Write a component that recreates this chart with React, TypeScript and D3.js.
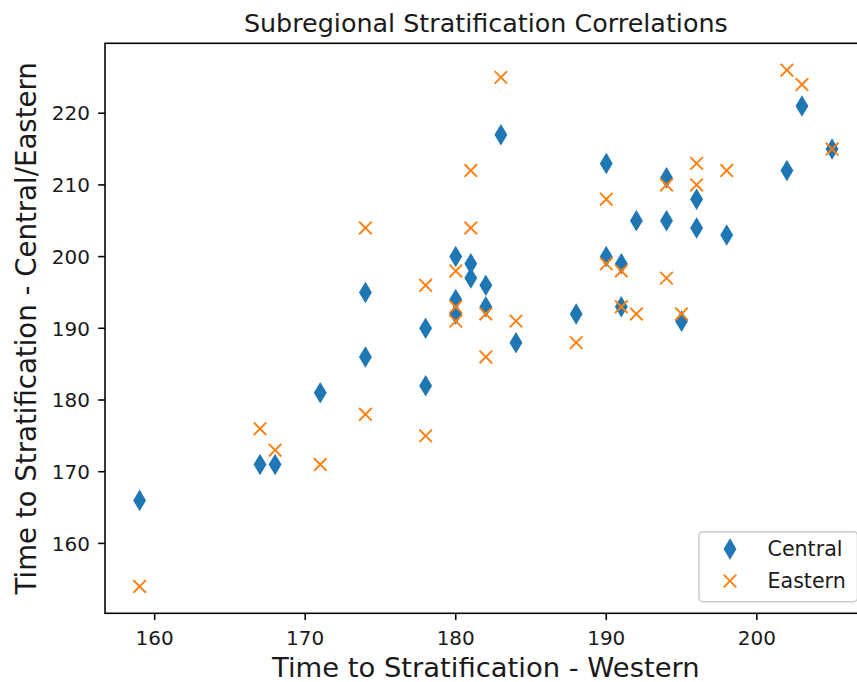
import React from "react";
import * as d3 from "d3";

const western = [159,167,168,171,174,174,178,178,180,180,180,181,181,182,182,183,184,188,190,190,191,191,192,194,194,195,196,196,198,202,203,205];
const central = [166,171,171,181,195,186,190,182,200,194,192,199,197,196,193,217,188,192,213,200,199,193,205,211,205,191,208,204,203,212,221,215];
const eastern = [154,176,173,171,204,178,196,175,198,193,191,212,204,192,186,225,191,188,208,199,198,193,192,210,197,192,213,210,212,226,224,215];
const xTicks = [160, 170, 180, 190, 200];
const yTicks = [160, 170, 180, 190, 200, 210, 220];
const seriesNames = ["Central", "Eastern"];
const colors = ["#1f77b4", "#ff7f0e"];

const W = 857, H = 682;
const L = 105, R = 866.7, T = 43.3, B = 613.3;
const FONT = "DejaVu Sans, sans-serif";
const MS = 12.6; // marker size px
const TXT = "#1a1a1a";

function diamondPath(cx: number, cy: number) {
  const p = d3.path();
  const hw = 0.424 * MS, hh = 0.707 * MS;
  p.moveTo(cx, cy - hh);
  p.lineTo(cx + hw, cy);
  p.lineTo(cx, cy + hh);
  p.lineTo(cx - hw, cy);
  p.closePath();
  return p.toString();
}
function crossPath(cx: number, cy: number) {
  const p = d3.path();
  const h = 0.5 * MS;
  p.moveTo(cx - h, cy - h);
  p.lineTo(cx + h, cy + h);
  p.moveTo(cx - h, cy + h);
  p.lineTo(cx + h, cy - h);
  return p.toString();
}

export default function App() {
  const x = d3.scaleLinear().domain([156.7, 207.3]).range([L, R]);
  const y = d3.scaleLinear().domain([150.25, 229.75]).range([B, T]);
  const tickLen = 6.8;
  return (
    <svg width={W} height={H} style={{ position: "absolute", left: 0, top: 0, background: "#fff" }} fontFamily={FONT}>
      <rect x={0} y={0} width={W} height={H} fill="#fff" />
      <g>
        {western.map((w, i) => (
          <path key={"c" + i} d={diamondPath(x(w), y(central[i]))} fill={colors[0]} stroke={colors[0]} strokeWidth={1.9} strokeLinejoin="miter" />
        ))}
        {western.map((w, i) => (
          <path key={"e" + i} d={crossPath(x(w), y(eastern[i]))} fill="none" stroke={colors[1]} strokeWidth={1.9} />
        ))}
      </g>
      <rect x={L} y={T} width={R - L} height={B - T} fill="none" stroke="#000" strokeWidth={1.56} />
      {xTicks.map((t) => (
        <g key={"xt" + t}>
          <line x1={x(t)} x2={x(t)} y1={B} y2={B + tickLen} stroke="#000" strokeWidth={1.56} />
          <text x={x(t)} y={645} textAnchor="middle" fontSize={20} fill={TXT}>{t}</text>
        </g>
      ))}
      {yTicks.map((t) => (
        <g key={"yt" + t}>
          <line x1={L - tickLen} x2={L} y1={y(t)} y2={y(t)} stroke="#000" strokeWidth={1.56} />
          <text x={90} y={y(t) + 7.2} textAnchor="end" fontSize={20} fill={TXT}>{t}</text>
        </g>
      ))}
      <text x={(L + R) / 2} y={677} textAnchor="middle" fontSize={27.4} fill={TXT}>Time to Stratification - Western</text>
      <text transform={`translate(35.5, ${(T + B) / 2}) rotate(-90)`} textAnchor="middle" fontSize={27.6} fill={TXT}>Time to Stratification - Central/Eastern</text>
      <text x={(L + R) / 2} y={31.6} textAnchor="middle" fontSize={25.4} fill={TXT}>Subregional Stratification Correlations</text>
      <g>
        <rect x={699} y={531.7} width={158.5} height={70} rx={4} ry={4} fill="#fff" fillOpacity={0.8} stroke="#cccccc" strokeWidth={1.56} />
        <path d={diamondPath(730, 549)} fill={colors[0]} stroke={colors[0]} strokeWidth={1.9} />
        <text x={767.5} y={555.5} fontSize={20.6} fill={TXT}>{seriesNames[0]}</text>
        <path d={crossPath(730, 581)} fill="none" stroke={colors[1]} strokeWidth={1.9} />
        <text x={767.5} y={587.5} fontSize={20.6} fill={TXT}>{seriesNames[1]}</text>
      </g>
    </svg>
  );
}
